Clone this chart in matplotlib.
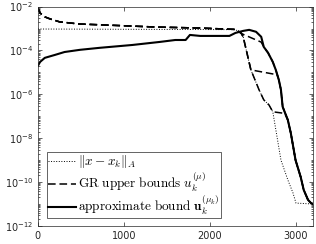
import numpy as np
import matplotlib
matplotlib.use('Agg')
import matplotlib.pyplot as plt
from matplotlib.ticker import FixedLocator, LogLocator, NullFormatter

# A-norm of the error (dotted)
k_err = [0, 2300, 2365, 2390, 2480, 2575, 2630, 2690, 2735, 2830, 2910, 2970, 3005, 3205]
err = [9.5e-4, 8.9e-4, 6.3e-4, 4.2e-4, 1.3e-5, 1.6e-6, 5.6e-7, 3.3e-7, 1.6e-7,
       1.0e-9, 1.26e-10, 3.2e-11, 1.1e-11, 1.0e-11]

# approximate bound u_k^(mu_k) (solid)
k_app = [0, 25, 80, 200, 310, 490, 720, 1100, 1420, 1600, 1720, 1770, 1890, 2230,
         2300, 2390, 2460, 2540, 2600, 2630, 2680, 2735, 2770, 2805, 2830, 2850,
         2910, 2945, 3000, 3060, 3095, 3145, 3180, 3205]
app = [2.0e-5, 3.0e-5, 4.6e-5, 6.3e-5, 8.5e-5, 1.07e-4, 1.32e-4, 1.78e-4, 2.45e-4,
       3.0e-4, 3.0e-4, 5.1e-4, 4.6e-4, 4.6e-4, 6.3e-4, 7.8e-4, 8.7e-4, 7.1e-4,
       4.2e-4, 1.45e-4, 7.8e-5, 3.0e-5, 1.3e-5, 4.6e-6, 1.6e-6, 2.7e-7, 6.8e-8,
       1.7e-8, 1.0e-9, 1.7e-10, 4.4e-11, 1.55e-11, 1.1e-11, 1.0e-11]

# GR upper bounds u_k^(mu), common start (dashed)
k_gr = [0, 25, 80, 140, 255, 490, 720, 1370, 1890, 2300]
gr = [8.7e-3, 5.1e-3, 3.4e-3, 2.75e-3, 2.0e-3, 1.6e-3, 1.48e-3, 1.17e-3, 1.05e-3, 9.1e-4]

# where the three bounds leave the common part
k_gr1 = [2365, 2600]
gr1 = [6.0e-4, 2.4e-4]
k_gr2 = [2365, 2390, 2480, 2735, 2785]
gr2 = [6.3e-4, 4.2e-4, 1.3e-5, 8.5e-6, 8.0e-6]
k_gr3 = [2365, 2390, 2480, 2575, 2630, 2690, 2735, 2875]
gr3 = [6.3e-4, 4.2e-4, 1.3e-5, 1.6e-6, 5.6e-7, 3.3e-7, 1.6e-7, 1.35e-7]

plt.rcParams['mathtext.fontset'] = 'cm'

fig = plt.figure(figsize=(3.16, 2.44), dpi=100)
ax = fig.add_axes([0.120, 0.074, 0.871, 0.899])

ka = np.array(k_app)
va = np.array(app)
first = True
for kx, vx in [(k_gr1, gr1), (k_gr2, gr2), (k_gr3, gr3)]:
    # after leaving, each bound runs into the approximate bound
    tail = ka > kx[-1]
    xs = np.concatenate([k_gr, kx, ka[tail]])
    ys = np.concatenate([gr, vx, va[tail]])
    ax.semilogy(xs, ys, '--', color='k', lw=1.1, dashes=(5, 2.5),
                label=r'$\mathrm{GR\ upper\ bounds}\ u_k^{(\mu)}$' if first else '_nolegend_')
    first = False

ax.semilogy(k_err, err, ':', color='k', lw=0.7, label=r'$\|x-x_k\|_A$')
ax.semilogy(k_app, app, '-', color='k', lw=1.5,
            label=r'$\mathrm{approximate\ bound}\ \mathbf{u}_k^{(\mu_k)}$')

ax.set_xlim(0, 3205)
ax.set_ylim(1e-12, 1e-2)
ax.xaxis.set_major_locator(FixedLocator([0, 1000, 2000, 3000]))
ax.yaxis.set_major_locator(FixedLocator([1e-12, 1e-10, 1e-8, 1e-6, 1e-4, 1e-2]))
ax.yaxis.set_minor_locator(LogLocator(base=10, subs=np.arange(1, 10), numticks=30))
ax.yaxis.set_minor_formatter(NullFormatter())
ax.tick_params(which='both', direction='in', top=True, right=True,
               labelsize=7, colors='0.15', width=0.5)
ax.tick_params(which='major', length=3)
ax.tick_params(which='minor', length=1.6)
for s in ax.spines.values():
    s.set_linewidth(0.5)
    s.set_color('0.15')

h, l = ax.get_legend_handles_labels()
order = [1, 0, 2]
leg = ax.legend([h[i] for i in order], [l[i] for i in order], loc='lower left',
                bbox_to_anchor=(0.033, 0.036), borderaxespad=0, fontsize=9.5,
                handlelength=2.1, handletextpad=0.15, labelspacing=0.0,
                borderpad=0.1, fancybox=False, framealpha=1)
leg.get_frame().set_edgecolor('0.15')
leg.get_frame().set_linewidth(0.5)

fig.savefig('out.png', dpi=100)
